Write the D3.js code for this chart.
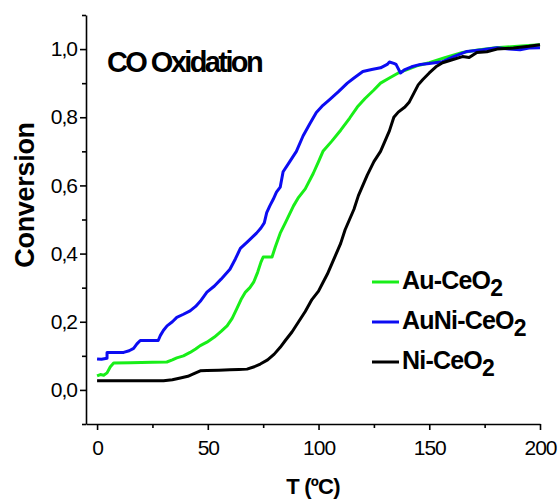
<html>
<head>
<meta charset="utf-8">
<title>CO Oxidation</title>
<style>
  body { margin: 0; background: #fff; }
  text { font-family: "Liberation Sans", Arial, sans-serif; fill: #000; }
</style>
<script src="https://d3js.org/d3.v7.min.js"></script>
</head>
<body>
<svg width="559" height="502"></svg>
<script>
// T (ºC) and conversion
var auCeO2 = [[0,0.041],[1.5,0.045],[3,0.043],[4.5,0.05],[6,0.068],[7.5,0.079],[15,0.08],[25,0.081],[31.5,0.082],[34,0.088],[36,0.094],[39,0.1],[42,0.11],[44.5,0.12],[46.6,0.13],[49.6,0.14],[53,0.155],[56,0.172],[58.7,0.188],[61,0.21],[63,0.237],[65,0.265],[67,0.287],[69,0.3],[70.7,0.316],[72.5,0.345],[74,0.375],[75,0.39],[79,0.39],[80.5,0.42],[82.7,0.46],[85,0.49],[88.7,0.54],[91,0.565],[94,0.59],[97.6,0.635],[100,0.67],[102,0.7],[106,0.73],[110,0.762],[114,0.797],[117.5,0.83],[121,0.855],[125,0.88],[128,0.9],[132,0.915],[136,0.93],[140,0.94],[145,0.952],[150,0.96],[157,0.975],[165,0.99],[172,0.997],[180,1.004],[190,1.008],[200,1.013]];
var auNiCeO2 = [[0,0.091],[2,0.09],[4.5,0.093],[4.5,0.11],[8,0.11],[12,0.11],[14.5,0.115],[16.5,0.122],[18,0.135],[19.5,0.145],[24,0.145],[27.6,0.145],[28.6,0.16],[30,0.175],[31.6,0.188],[34,0.2],[36,0.213],[39,0.222],[42,0.232],[44.5,0.245],[46.6,0.26],[49.6,0.287],[53,0.305],[56,0.325],[60,0.354],[62.5,0.385],[64.7,0.415],[68,0.435],[72,0.46],[74,0.475],[75.5,0.49],[76.6,0.52],[78,0.54],[79.6,0.56],[81,0.58],[82.7,0.595],[84,0.64],[87,0.67],[90,0.7],[93,0.745],[96,0.78],[99,0.814],[102,0.835],[105,0.852],[109,0.875],[113,0.9],[116,0.915],[120,0.934],[124,0.94],[128,0.945],[131,0.955],[132,0.962],[134,0.958],[135,0.955],[137,0.93],[139,0.94],[142,0.948],[146,0.955],[150,0.958],[156,0.963],[161,0.978],[167,0.993],[174,0.998],[180.6,1.004],[186,1.0],[191,0.998],[195,1.003],[200,1.004]];
var niCeO2 = [[0,0.027],[10,0.027],[20,0.027],[30,0.027],[34,0.03],[37.6,0.035],[41,0.04],[43.5,0.047],[46.6,0.056],[49.6,0.057],[55,0.058],[60,0.059],[64,0.06],[67.7,0.061],[71,0.068],[73.7,0.076],[77,0.088],[80,0.105],[82.7,0.125],[85,0.145],[88,0.17],[91,0.2],[94,0.23],[97,0.265],[100,0.29],[102,0.315],[104,0.34],[106,0.37],[108,0.4],[110,0.43],[112,0.47],[114,0.5],[116,0.53],[118,0.57],[120,0.6],[122,0.63],[125,0.67],[128,0.7],[130,0.73],[132,0.76],[134,0.8],[136,0.815],[139,0.83],[141,0.845],[143,0.87],[145,0.895],[147,0.91],[150,0.93],[153,0.948],[156,0.96],[160,0.968],[165,0.978],[168,0.975],[171.5,0.99],[176,0.992],[180.6,1.0],[188,1.003],[195,1.008],[200,1.013]];

var xMajor = [0,50,100,150,200],
    xMinor = [25,75,125,175],
    yMajor = [0,0.2,0.4,0.6,0.8,1.0],
    yMinor = [-0.1,0.1,0.3,0.5,0.7,0.9,1.1];

var series = [
  {name:"Au-CeO", data:auCeO2, color:"#18ee18"},
  {name:"AuNi-CeO", data:auNiCeO2, color:"#0c0cf2"},
  {name:"Ni-CeO", data:niCeO2, color:"#000"}
];

var svg = d3.select("svg");
var x = d3.scaleLinear().domain([-5,200]).range([86,540]),
    y = d3.scaleLinear().domain([-0.1,1.1]).range([424,15]);

var fmt = d => d3.format(".1f")(d).replace(".", ",");

// curves
var line = d3.line().x(d=>x(d[0])).y(d=>y(d[1]));
svg.selectAll(".curve")
  .data(series)
  .enter().append("path")
    .attr("class","curve")
    .attr("d",d=>line(d.data))
    .attr("fill","none")
    .attr("stroke",d=>d.color)
    .attr("stroke-width",3)
    .attr("stroke-linejoin","round");

// x axis
var xa = svg.append("g").attr("transform",`translate(0,${y(-0.1)})`);
xa.call(d3.axisBottom(x).tickValues(xMajor).tickSize(6).tickSizeOuter(0).tickPadding(10))
xa.append("g").call(d3.axisBottom(x).tickValues(xMinor).tickSize(4).tickSizeOuter(0).tickFormat(""))
  .select(".domain").remove();
xa.selectAll(".tick text").style("font-size","21px").style("letter-spacing","-1px");

// y axis
var ya = svg.append("g").attr("transform",`translate(${x(-5)},0)`);
ya.call(d3.axisLeft(y).tickValues(yMajor).tickSize(6).tickSizeOuter(0).tickPadding(3).tickFormat(fmt));
ya.append("g").call(d3.axisLeft(y).tickValues(yMinor).tickSize(4).tickSizeOuter(0).tickFormat(""))
  .select(".domain").remove();
ya.selectAll(".tick text").style("font-size","21px").style("letter-spacing","-1px");

svg.selectAll(".domain, .tick line").attr("stroke","#000").attr("stroke-width",1.6);

// axis titles
svg.append("text")
  .attr("transform","translate(34,195) rotate(-90)")
  .attr("text-anchor","middle")
  .style("font-size","27px").style("font-weight","bold").style("letter-spacing","-0.3px")
  .text("Conversion");
svg.append("text")
  .attr("x",313).attr("y",494)
  .attr("text-anchor","middle")
  .style("font-size","22px").style("font-weight","bold").style("letter-spacing","-0.8px")
  .text("T (ºC)");

// inner title
svg.append("text")
  .attr("x",107).attr("y",72)
  .style("font-size","29px").style("font-weight","bold").style("letter-spacing","-2.6px")
  .text("CO Oxidation");

// legend
var leg = svg.selectAll(".leg")
  .data(series)
  .enter().append("g")
    .attr("class","leg")
    .attr("transform",(d,i)=>`translate(372,${282+i*40})`);
leg.append("line").attr("x1",0).attr("x2",27)
  .attr("stroke",d=>d.color).attr("stroke-width",3);
var lt = leg.append("text").attr("x",30).attr("y",7)
  .style("font-size","25px").style("font-weight","bold").style("letter-spacing","-0.8px");
lt.append("tspan").text(d=>d.name);
lt.append("tspan").attr("dy",7).style("font-size","23px").text("2");
</script>
</body>
</html>
